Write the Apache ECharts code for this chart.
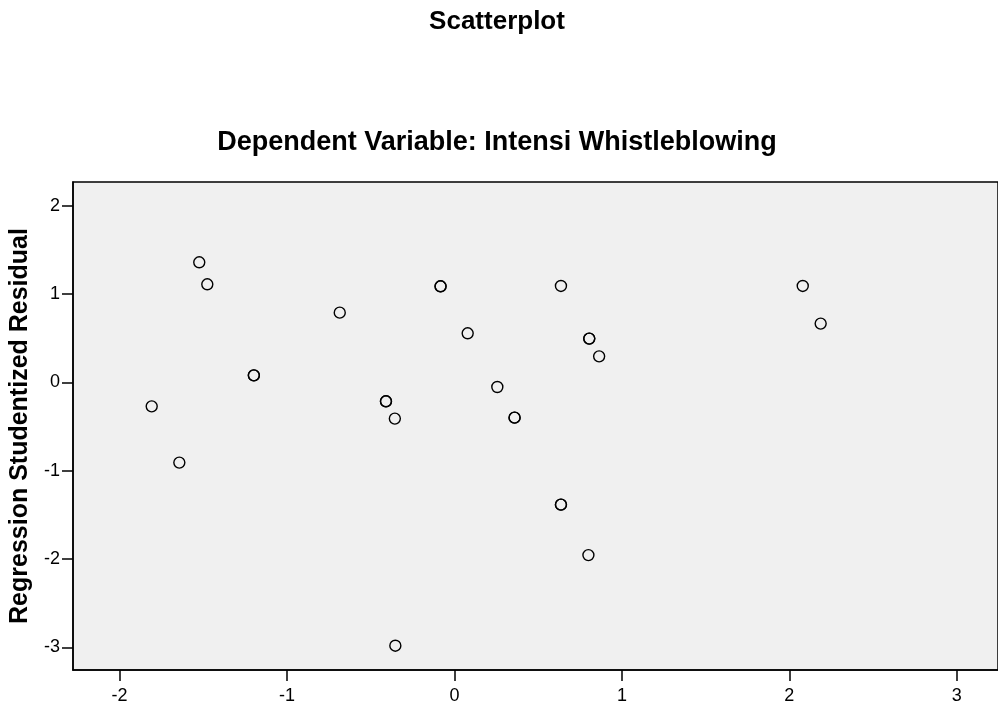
<!DOCTYPE html>
<html>
<head>
<meta charset="utf-8">
<script src="https://cdn.jsdelivr.net/npm/echarts@6/dist/echarts.min.js"></script>
<style>
html,body{margin:0;padding:0;background:#fff;}
#chart{width:998px;height:705px;}
</style>
</head>
<body>
<div id="chart"></div>
<script>
// Data (duplicates appear as bolder circles)
const mainTitle = "Scatterplot";
const subTitle = "Dependent Variable: Intensi Whistleblowing";
const yAxisName = "Regression Studentized Residual";
const xTicks = [-2, -1, 0, 1, 2, 3];
const yTicks = [-3, -2, -1, 0, 1, 2];
const xValues = [-1.808, -1.643, -1.524, -1.476, -1.198, -1.198, -0.685, -0.409, -0.409, -0.356, -0.353, -0.083, -0.083, 0.079, 0.256, 0.359, 0.359, 0.636, 0.636, 0.636, 0.800, 0.805, 0.805, 0.864, 2.080, 2.187];
const yValues = [-0.272, -0.909, 1.359, 1.110, 0.079, 0.079, 0.789, -0.215, -0.215, -0.411, -2.982, 1.087, 1.087, 0.555, -0.053, -0.400, -0.400, 1.091, -1.385, -1.385, -1.956, 0.495, 0.495, 0.294, 1.091, 0.665];

const points = xValues.map((x, i) => [x, yValues[i]]);

const chart = echarts.init(document.getElementById('chart'));
const font = "'Liberation Sans', Arial, sans-serif";
chart.setOption({
  animation: false,
  backgroundColor: '#ffffff',
  textStyle: { fontFamily: font },
  title: [
    { text: mainTitle, left: 492, top: 4, textAlign: 'center',
      textStyle: { fontFamily: font, fontSize: 26, fontWeight: 'bold', color: '#000' } },
    { text: subTitle, left: 492, top: 124, textAlign: 'center',
      textStyle: { fontFamily: font, fontSize: 27, fontWeight: 'bold', color: '#000' } }
  ],
  grid: {
    show: true, left: 73, top: 182, right: -2, bottom: 35,
    backgroundColor: '#f0f0f0', borderColor: '#000', borderWidth: 1.5
  },
  xAxis: {
    type: 'value', min: -2.278, max: 3.246,
    splitLine: { show: false },
    axisLine: { show: true, onZero: false, lineStyle: { color: '#000', width: 1.5 } },
    axisTick: { show: true, length: 11, customValues: xTicks, lineStyle: { color: '#000', width: 1.5 } },
    axisLabel: { customValues: xTicks, margin: 17, fontSize: 18, color: '#000', fontFamily: font,
      formatter: v => String(v) }
  },
  yAxis: {
    type: 'value', min: -3.257, max: 2.268,
    name: yAxisName, nameLocation: 'middle', nameGap: 36, nameRotate: 90,
    nameTextStyle: { fontFamily: font, fontSize: 25, fontWeight: 'bold', color: '#000' },
    splitLine: { show: false },
    axisLine: { show: true, onZero: false, lineStyle: { color: '#000', width: 1.5 } },
    axisTick: { show: true, length: 11, customValues: yTicks, lineStyle: { color: '#000', width: 1.5 } },
    axisLabel: { customValues: yTicks, margin: 13, fontSize: 18, color: '#000', fontFamily: font,
      formatter: v => String(v) }
  },
  series: [{
    type: 'scatter',
    data: points,
    symbol: 'circle',
    symbolSize: 11,
    itemStyle: { color: 'rgba(0,0,0,0)', borderColor: '#000', borderWidth: 1.4, opacity: 1 },
    emphasis: { disabled: true },
    silent: true
  }]
});
</script>
</body>
</html>
